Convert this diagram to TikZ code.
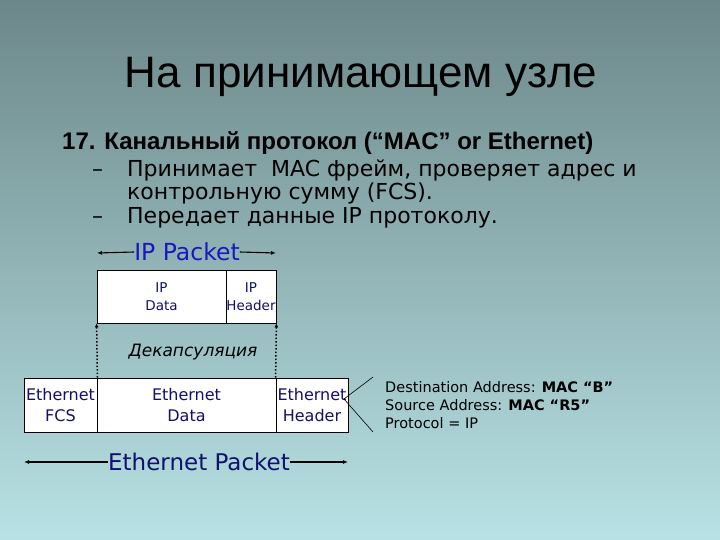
\documentclass[tikz,border=0pt]{standalone}
\usepackage{fontspec}
\setmainfont{Liberation Sans}
\newfontfamily\comic{DejaVu Sans}
\usetikzlibrary{arrows.meta}
\definecolor{bgtop}{RGB}{108,135,137}
\definecolor{bgmid}{RGB}{148,184,186}
\definecolor{bgbot}{RGB}{184,226,229}
\definecolor{navy}{RGB}{16,16,110}
\definecolor{ipblue}{RGB}{24,24,190}
\begin{document}
\begin{tikzpicture}[x=1pt,y=-1pt,
  cell/.style={draw=black,fill=white,line width=0.8pt,minimum height=54pt,inner sep=0.5pt,align=center,text=navy,font=\comic\fontsize{16}{20.5}\selectfont},
  ipcell/.style={draw=black,fill=white,line width=0.8pt,minimum height=53pt,inner sep=0pt,align=center,text=navy,font=\comic\fontsize{13.5}{18}\selectfont},
  dim/.style={line width=1.1pt,-{Latex[length=5pt,width=4pt]}},
  dots/.style={line width=1.5pt,dotted,-{Latex[length=4pt,width=4pt]}},
  body/.style={anchor=west,inner sep=0pt,text height=15pt,text depth=5pt,font=\comic\fontsize{22}{26}\selectfont},
  addr/.style={anchor=west,inner sep=0pt,font=\comic\fontsize{14.5}{17}\selectfont}]
\shade[top color=bgtop, middle color=bgmid, bottom color=bgbot] (0,0) rectangle (720,540);
\useasboundingbox (0,0) rectangle (720,540);

\node[font=\fontsize{44}{50}\selectfont] (title) at (361,77) {На принимающем узле};
\node[anchor=west,inner sep=0pt,font=\bfseries\fontsize{24}{28}\selectfont] (l1) at (62,143) {17. Канальный протокол (“MAC” or Ethernet)};
\node[body] (d2) at (92,172) {–};
\node[body] (l2) at (127,172) {Принимает\ \ MAC фрейм, проверяет адрес и};
\node[body] (l3) at (127,195) {контрольную сумму (FCS).};
\node[body] (d4) at (92,218) {–};
\node[body] (l4) at (127,218) {Передает данные IP протоколу.};

% IP packet
\node[inner sep=0pt,text=ipblue,font=\comic\fontsize{23.5}{28}\selectfont] (ippk) at (187,252) {IP Packet};
\coordinate (ipL) at (97,253);
\coordinate (ipR) at (276,253);
\draw[dim] (ippk.west) -- (ipL);
\draw[dim] (ippk.east) -- (ipR);
\node[ipcell,minimum width=129pt] (ipdata) at (161.5,296.5) {IP\\Data};
\node[ipcell,minimum width=50pt] (iphdr) at (251,296.5) {IP\\Header};

\node[inner sep=0pt,font=\comic\itshape\fontsize{17}{20}\selectfont] (dec) at (193,352) {Декапсуляция};

% Ethernet frame
\node[cell,minimum width=73pt] (ethfcs) at (60.5,405) {Ethernet\\FCS};
\node[cell,minimum width=179pt] (ethdata) at (186.5,405) {Ethernet\\Data};
\node[cell,minimum width=72pt] (ethhdr) at (312,405) {Ethernet\\Header};

\draw[dots] (ethfcs.north east) -- (ipdata.south west);
\draw[dots] (ethhdr.north west) -- (iphdr.south east);

% Ethernet packet
\node[inner sep=0pt,text=navy,font=\comic\fontsize{23}{27}\selectfont] (ethpk) at (199,462) {Ethernet Packet};
\coordinate (ethL) at (24,462);
\coordinate (ethR) at (348,462);
\draw[dim] (ethpk.west) -- (ethL);
\draw[dim] (ethpk.east) -- (ethR);

% header detail
\coordinate (hx) at (344,399);
\coordinate (hdt) at (373,377);
\coordinate (hdb) at (373,432);
\draw[line width=0.6pt] (hx) -- (hdt);
\draw[line width=0.6pt] (hx) -- (hdb);
\node[addr] (a1) at (385,387) {Destination Address: \textbf{MAC “B”}};
\node[addr] (a2) at (385,405) {Source Address: \textbf{MAC “R5”}};
\node[addr] (a3) at (385,423) {Protocol = IP};
\end{tikzpicture}
\end{document}
